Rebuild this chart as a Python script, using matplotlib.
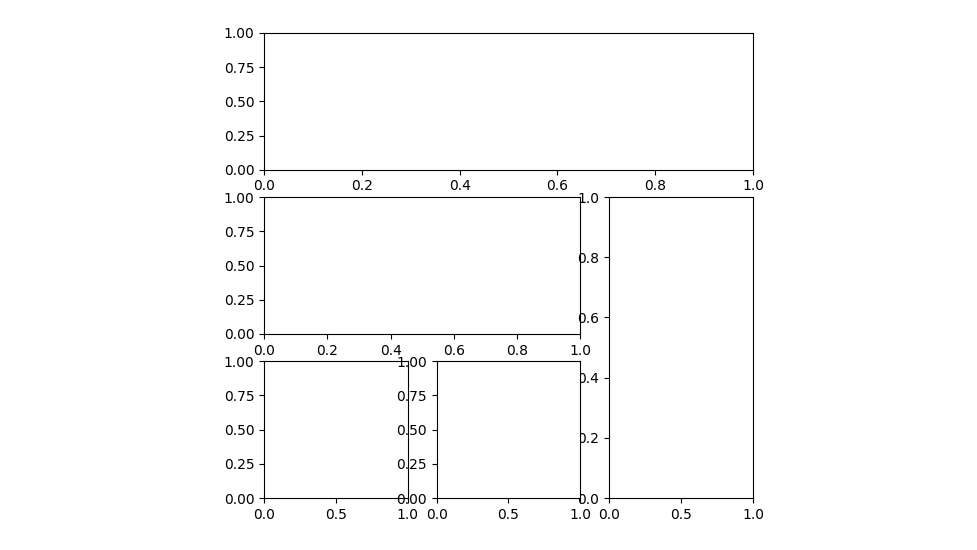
import matplotlib
matplotlib.use("Agg")
import matplotlib.pyplot as plt
from matplotlib.gridspec import GridSpec

# Grid shape and the cells each axes spans: (row slice, column slice)
n_rows = 3
n_cols = 3
spans = [
    (slice(0, 1), slice(0, 3)),
    (slice(1, 2), slice(0, 2)),
    (slice(1, 3), slice(2, 3)),
    (slice(2, 3), slice(0, 1)),
    (slice(2, 3), slice(1, 2)),
]

fig = plt.figure(figsize=(9.78, 5.5), dpi=100)
gs = GridSpec(n_rows, n_cols, figure=fig,
              left=264 / 978, right=753 / 978,
              top=1 - 33 / 550, bottom=1 - 498 / 550,
              wspace=0.2, hspace=0.2)

for rows, cols in spans:
    fig.add_subplot(gs[rows, cols])

fig.savefig("out.png", dpi=100)
